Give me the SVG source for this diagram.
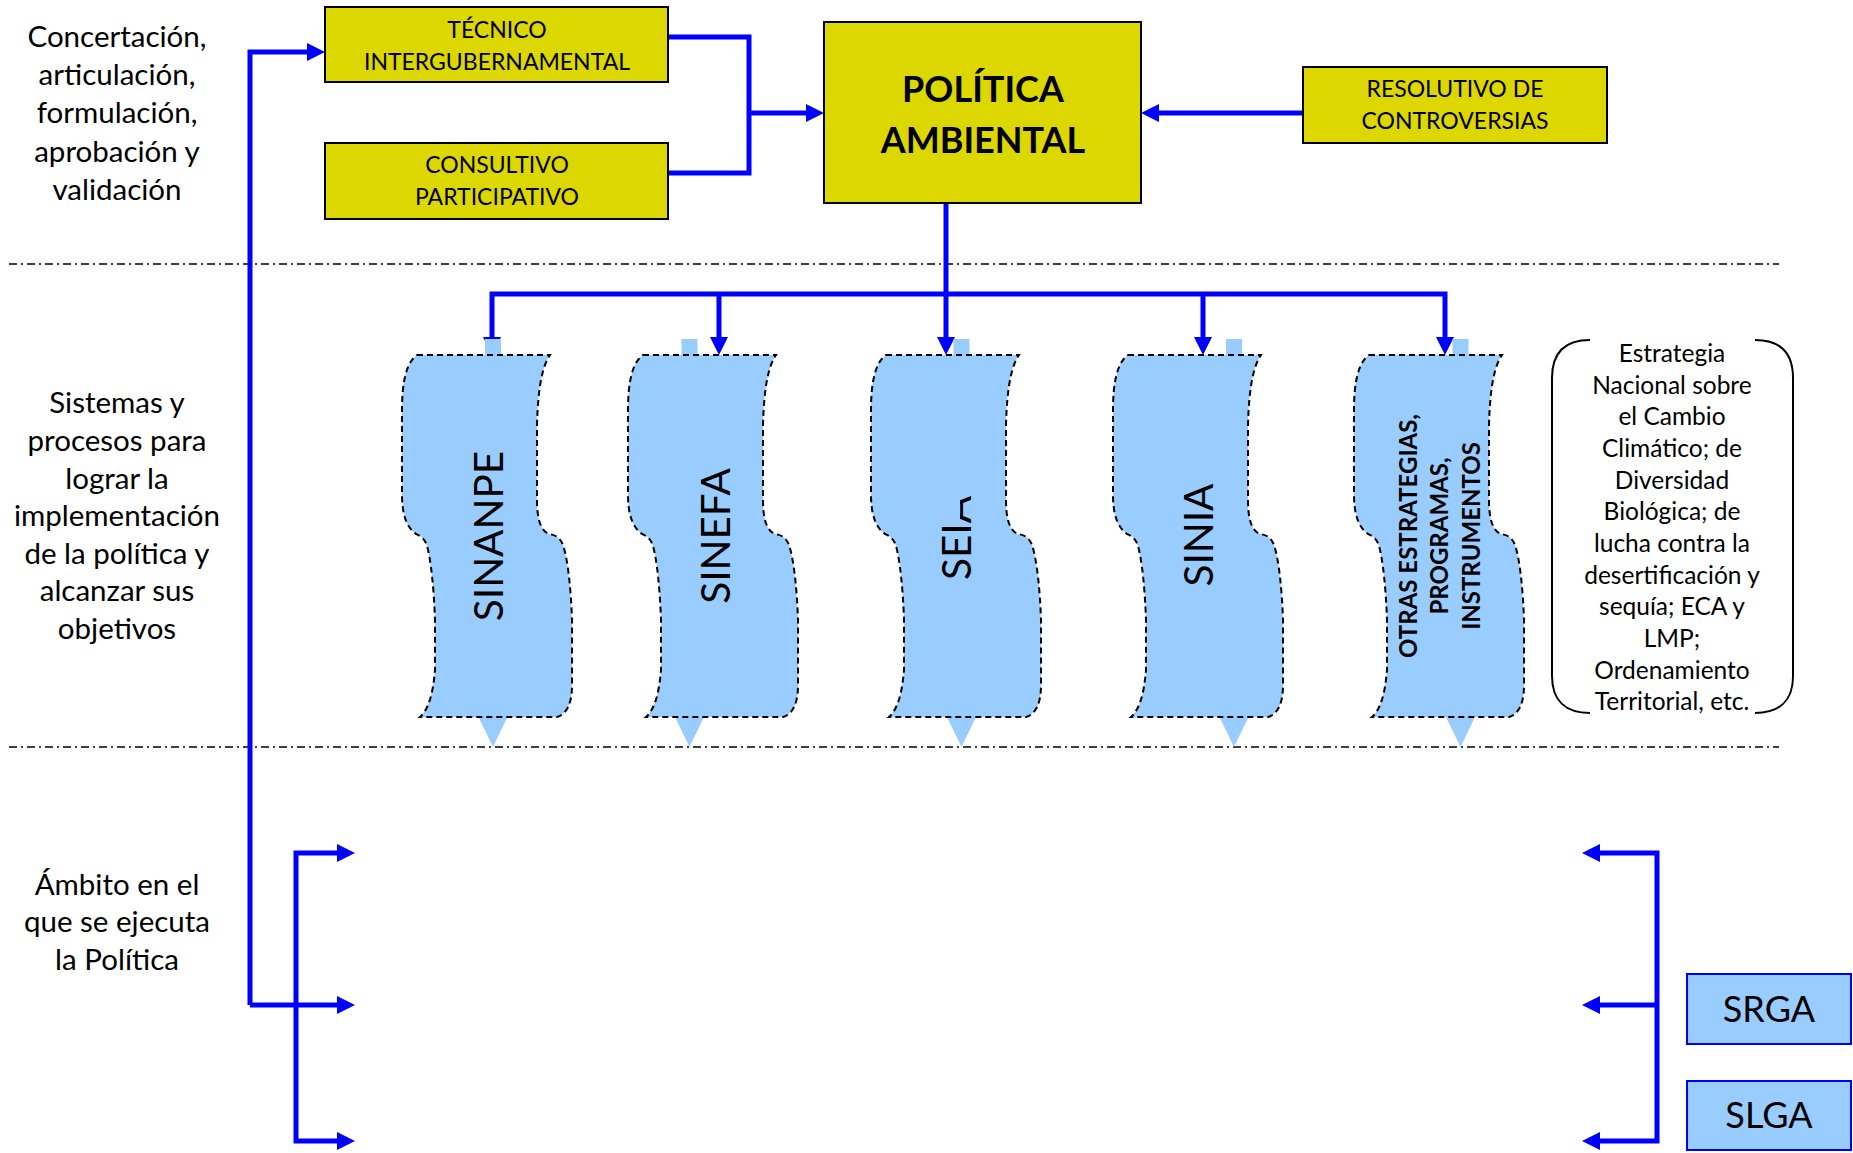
<svg xmlns="http://www.w3.org/2000/svg" width="1853" height="1153" viewBox="0 0 1853 1153">
<style>
.lbl{font-family:Lato,"Liberation Sans",sans-serif;font-size:29.5px;fill:#000;text-anchor:middle}
.box{fill:#DDD700;stroke:#000;stroke-width:2}
.bt{font-family:Lato,"Liberation Sans",sans-serif;font-size:23px;fill:#000;text-anchor:middle}
.et{font-family:Lato,"Liberation Sans",sans-serif;font-size:24.5px;fill:#000;text-anchor:middle}
.big{font-family:Lato,"Liberation Sans",sans-serif;font-size:36px;font-weight:bold;fill:#000;text-anchor:middle}
.wave{fill:#99CCFF;stroke:#000;stroke-width:2;stroke-dasharray:6 4}
.tab{fill:#99CCFF}
.vt{font-family:Lato,"Liberation Sans",sans-serif;font-size:40.5px;fill:#000;text-anchor:middle}
.vb{font-family:Lato,"Liberation Sans",sans-serif;font-size:24px;font-weight:bold;fill:#000;text-anchor:middle}
.sep{fill:none;stroke:#000;stroke-width:1.5;stroke-dasharray:8 4 2 4}
.con{fill:none;stroke:#0000FF;stroke-width:5}
.blue{fill:#99CCFF;stroke:#0000FF;stroke-width:2}
.st{font-family:Lato,"Liberation Sans",sans-serif;font-size:36px;fill:#000;text-anchor:middle}
.brk{fill:none;stroke:#000;stroke-width:2}
</style>
<defs>
<marker id="ah" viewBox="0 0 18 18" refX="0" refY="9" markerWidth="18" markerHeight="18" markerUnits="userSpaceOnUse" orient="auto-start-reverse">
<path d="M0,0 L18,9 L0,18 Z" fill="#0000FF"/>
</marker>
<path id="wv" d="M15,355 H148 C141,365 136,385 135,425 L135,500 C135,520 139,531 147,534 C153,535 158,537 161,545 C166,560 169,590 170,620 L170,685 C170,703 165,714 155,717 L18,717 C26,710 31,695 33,670 L33,620 C32,590 29,560 25,546 C23,539 19,536 14,534 C5,528 0,515 0,495 L0,410 C0,380 5,362 15,355 Z"/>
<path id="dn" d="M-8,339 H8 V717 H14.5 L0,747 L-14.5,717 H-8 Z"/>
<clipPath id="seiaclip">
<path d="M930,523 H960 V480 H1000 V600 H930 Z"/>
</clipPath>
</defs>
<rect width="1853" height="1153" fill="#fff"/>

<g id="separators">
<line class="sep" x1="9" y1="264" x2="1779" y2="264"/>
<line class="sep" x1="9" y1="747" x2="1779" y2="747"/>
</g>

<g id="labels">
<text class="lbl" x="117" y="47">Concertación,</text>
<text class="lbl" x="117" y="85">articulación,</text>
<text class="lbl" x="117" y="123">formulación,</text>
<text class="lbl" x="117" y="162">aprobación y</text>
<text class="lbl" x="117" y="200">validación</text>
<text class="lbl" x="117" y="413">Sistemas y</text>
<text class="lbl" x="117" y="451">procesos para</text>
<text class="lbl" x="117" y="489">lograr la</text>
<text class="lbl" x="117" y="526">implementación</text>
<text class="lbl" x="117" y="564">de la política y</text>
<text class="lbl" x="117" y="601">alcanzar sus</text>
<text class="lbl" x="117" y="639">objetivos</text>
<text class="lbl" x="117" y="895">Ámbito en el</text>
<text class="lbl" x="117" y="932">que se ejecuta</text>
<text class="lbl" x="117" y="970">la Política</text>
</g>

<g id="connectors">
<path class="con" d="M250,1005 V52 H307" marker-end="url(#ah)"/>
<path class="con" d="M250,1005 H337" marker-end="url(#ah)"/>
<path class="con" d="M337,853 H296 V1141 H337" marker-start="url(#ah)" marker-end="url(#ah)"/>
<path class="con" d="M1600,853 H1657 V1141 H1600" marker-start="url(#ah)" marker-end="url(#ah)"/>
<path class="con" d="M1657,1005 H1600" marker-end="url(#ah)"/>
<path class="con" d="M668,37 H749 V173 H668"/>
<path class="con" d="M749,113 H806" marker-end="url(#ah)"/>
<path class="con" d="M1303,113 H1159" marker-end="url(#ah)"/>
<path class="con" d="M946,203 V337" marker-end="url(#ah)"/>
<path class="con" d="M492,337 V294 H1445 V337" marker-start="url(#ah)" marker-end="url(#ah)"/>
<path class="con" d="M719,294 V337" marker-end="url(#ah)"/>
<path class="con" d="M1203,294 V337" marker-end="url(#ah)"/>
</g>

<g id="tecnico">
<rect class="box" x="325" y="7" width="343" height="75"/>
<text class="bt" x="497" y="38">TÉCNICO</text>
<text class="bt" x="497" y="70">INTERGUBERNAMENTAL</text>
</g>
<g id="consultivo">
<rect class="box" x="325" y="143" width="343" height="76"/>
<text class="bt" x="497" y="173">CONSULTIVO</text>
<text class="bt" x="497" y="205">PARTICIPATIVO</text>
</g>
<g id="politica">
<rect class="box" x="824" y="22" width="317" height="181"/>
<text class="big" x="983" y="102">POLÍTICA</text>
<text class="big" x="983" y="153">AMBIENTAL</text>
</g>
<g id="resolutivo">
<rect class="box" x="1303" y="67" width="304" height="76"/>
<text class="bt" x="1455" y="97">RESOLUTIVO DE</text>
<text class="bt" x="1455" y="129">CONTROVERSIAS</text>
</g>

<g id="sinanpe">
<use href="#dn" class="tab" x="493"/>
<use href="#wv" class="wave" x="402"/>
<text class="vt" transform="translate(503,536) rotate(-90)">SINANPE</text>
</g>
<g id="sinefa">
<use href="#dn" class="tab" x="689.5"/>
<use href="#wv" class="wave" x="628"/>
<text class="vt" transform="translate(730,536) rotate(-90)">SINEFA</text>
</g>
<g id="seia">
<use href="#dn" class="tab" x="961.5"/>
<use href="#wv" class="wave" x="871"/>
<g clip-path="url(#seiaclip)">
<text class="vt" transform="translate(971,538) rotate(-90)">SEIA</text>
</g>
</g>
<g id="sinia">
<use href="#dn" class="tab" x="1234"/>
<use href="#wv" class="wave" x="1113"/>
<text class="vt" transform="translate(1213,535) rotate(-90)">SINIA</text>
</g>
<g id="otras">
<use href="#dn" class="tab" x="1460.5"/>
<use href="#wv" class="wave" x="1354"/>
<text class="vb" transform="translate(1417,536) rotate(-90)">OTRAS ESTRATEGIAS,</text>
<text class="vb" transform="translate(1448,536) rotate(-90)">PROGRAMAS,</text>
<text class="vb" transform="translate(1480,536) rotate(-90)">INSTRUMENTOS</text>
</g>

<g id="estrategia">
<path class="brk" d="M1590,340 C1566,340 1552,352 1552,378 L1552,676 C1552,701 1566,713 1590,713"/>
<path class="brk" d="M1755,340 C1779,340 1793,352 1793,378 L1793,676 C1793,701 1779,713 1755,713"/>
<text class="et" x="1672" y="362">Estrategia</text>
<text class="et" x="1672" y="394">Nacional sobre</text>
<text class="et" x="1672" y="425">el Cambio</text>
<text class="et" x="1672" y="457">Climático; de</text>
<text class="et" x="1672" y="489">Diversidad</text>
<text class="et" x="1672" y="520">Biológica; de</text>
<text class="et" x="1672" y="552">lucha contra la</text>
<text class="et" x="1672" y="584">desertificación y</text>
<text class="et" x="1672" y="615">sequía; ECA y</text>
<text class="et" x="1672" y="647">LMP;</text>
<text class="et" x="1672" y="679">Ordenamiento</text>
<text class="et" x="1672" y="710">Territorial, etc.</text>
</g>

<g id="srga">
<rect class="blue" x="1687" y="974" width="164" height="70"/>
<text class="st" x="1769" y="1022">SRGA</text>
</g>
<g id="slga">
<rect class="blue" x="1687" y="1081" width="164" height="69"/>
<text class="st" x="1769" y="1128">SLGA</text>
</g>
</svg>
